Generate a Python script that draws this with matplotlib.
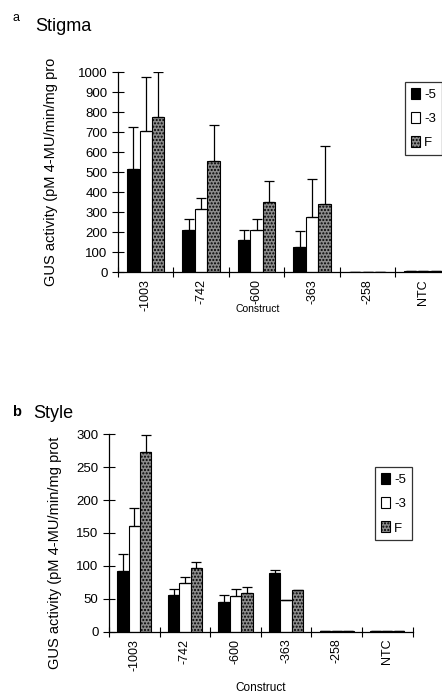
import numpy as np
import matplotlib.pyplot as plt

# constructs (promoter deletions) and flower stages
constructs = ['-1003', '-742', '-600', '-363', '-258', 'NTC']
stages = ['-5', '-3', 'F']

# stigma: mean GUS activity and upper error
stigma_m5 = [513, 212, 162, 125, 2, 3]
stigma_m3 = [703, 313, 208, 275, 2, 5]
stigma_f = [775, 553, 350, 342, 2, 7]
stigma_m5_err = [212, 51, 50, 80, 0, 0]
stigma_m3_err = [272, 59, 59, 188, 0, 0]
stigma_f_err = [225, 184, 103, 286, 0, 0]

# style
style_m5 = [92.7, 55.7, 45.6, 89.7, 0.5, 0.5]
style_m3 = [160.7, 74.5, 54.7, 48.1, 0.5, 0.5]
style_f = [273.7, 97.3, 58.3, 63.4, 0.5, 0.5]
style_m5_err = [25, 8.7, 10, 4, 0, 0]
style_m3_err = [27, 9, 9.7, 0, 0, 0]
style_f_err = [26, 9, 10, 0, 0, 0]

plt.rcParams['font.family'] = ['Liberation Sans', 'DejaVu Sans']

fig = plt.figure(figsize=(4.42, 6.95), dpi=100)


def panel(ax, series, errs, ymax, ystep, ylabel, ylab_xy, xlab_xy, xlab_size, leg_anchor):
    x = np.arange(len(constructs))
    w = 0.225
    styles = [dict(color='black', edgecolor='black'),
              dict(color='white', edgecolor='black'),
              dict(color='#8c8c8c', edgecolor='black', hatch='.....')]
    for i, (vals, err, st) in enumerate(zip(series, errs, styles)):
        pos = x + (i - 1) * w
        ax.bar(pos, vals, w, linewidth=0.8, label=stages[i], **st)
        ax.errorbar(pos, vals, yerr=[np.zeros(len(err)), err], fmt='none',
                    ecolor='black', elinewidth=0.9, capsize=3.5, capthick=0.9)
    ax.set_xlim(-0.5, len(constructs) - 0.5)
    ax.set_ylim(0, ymax)
    ax.set_yticks(np.arange(0, ymax + 1, ystep))
    ax.set_xticks(np.arange(len(constructs) + 1) - 0.5)
    ax.set_xticklabels([])
    ax.set_xticks(x, minor=True)
    ax.set_xticklabels(constructs, minor=True, rotation=90, fontsize=9)
    ax.tick_params(axis='x', which='major', direction='inout', length=7, width=0.8)
    ax.tick_params(axis='x', which='minor', length=0, pad=5)
    ax.tick_params(axis='y', direction='inout', length=8, width=0.8, labelsize=9.5, pad=3.5)
    for s in ['top', 'right']:
        ax.spines[s].set_visible(False)
    ax.spines['left'].set_linewidth(0.9)
    ax.spines['bottom'].set_linewidth(0.9)
    ax.set_ylabel(ylabel, fontsize=10.5)
    ax.yaxis.set_label_coords(*ylab_xy)
    ax.set_xlabel('Construct', fontsize=xlab_size)
    ax.xaxis.set_label_coords(*xlab_xy)
    leg = ax.legend(loc='upper left', bbox_to_anchor=leg_anchor, frameon=True,
                    fancybox=False, edgecolor='black', fontsize=9.5,
                    handlelength=0.7, handleheight=0.9, handletextpad=0.3,
                    borderpad=0.45, labelspacing=0.85, borderaxespad=0)
    leg.get_frame().set_linewidth(0.9)


ax1 = fig.add_axes([0.267, 0.6086, 0.753, 0.2878])
panel(ax1, [stigma_m5, stigma_m3, stigma_f],
      [stigma_m5_err, stigma_m3_err, stigma_f_err],
      1000, 100, 'GUS activity (pM 4-MU/min/mg pro', (-0.18, 0.5),
      (0.42, -0.16), 7.5, (0.862, 0.95))

ax2 = fig.add_axes([0.2466, 0.0911, 0.687, 0.284])
panel(ax2, [style_m5, style_m3, style_f],
      [style_m5_err, style_m3_err, style_f_err],
      300, 50, 'GUS activity (pM 4-MU/min/mg prot', (-0.155, 0.40),
      (0.5, -0.255), 8.5, (0.876, 0.834))

fig.text(0.028, 0.974, 'a', fontsize=9, ha='left', va='center')
fig.text(0.079, 0.962, 'Stigma', fontsize=13, ha='left', va='center')
fig.text(0.027, 0.407, 'b', fontsize=10.5, ha='left', va='center', fontweight='bold')
fig.text(0.075, 0.405, 'Style', fontsize=13, ha='left', va='center')

fig.savefig('out.png', dpi=100)
